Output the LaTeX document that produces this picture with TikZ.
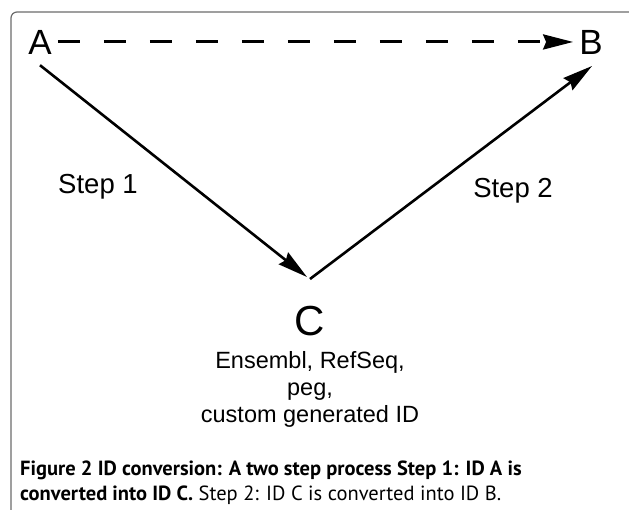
\documentclass[tikz,border=0pt]{standalone}
\usepackage{fontspec}
\setmainfont{Liberation Sans}
\newfontfamily\capfont{PT Sans}
\usetikzlibrary{arrows.meta}
\tikzset{
  arr/.style={line width=2.6pt,-{Stealth[length=30pt,width=15pt,inset=3pt]}},
  dasharr/.style={arr,line width=3pt,dash pattern=on 22pt off 24pt},
  letter/.style={inner sep=0pt,anchor=base,font=\fontsize{35}{35}\selectfont},
  steplabel/.style={inner sep=0pt,anchor=base,font=\fontsize{27.5}{27.5}\selectfont}
}
\begin{document}
\begin{tikzpicture}[x=1pt,y=-1pt]
        \useasboundingbox(0,0)rectangle(629,509);
        \draw[gray!85!black,line width=1.2pt,rounded corners=6pt](11,520)--(11,12)--(640,12);
        \node[letter](A)at(40,54){A};
        \node[letter](B)at(591,54){B};
        \node[letter,font=\fontsize{42}{42}\selectfont](C)at(310,335){C};
        \coordinate(V)at(310,279);
        \coordinate(Vin)at(307,277);
        \coordinate(Bin)at(592,66);
        \draw[dasharr]([xshift=6pt]A.east)--([xshift=-6pt]B.west);
        \draw[arr]([yshift=-11pt]A.south)--(Vin);
        \draw[arr](V)--(Bin);
        \node[steplabel]at(98,193){Step 1};
        \node[steplabel]at(513,197){Step 2};
        \node[anchor=base,inner sep=0pt,align=center,font=\fontsize{23.5}{27}\selectfont]at(310,422)
            {Ensembl, RefSeq,\\peg,\\custom generated ID};
        \node[anchor=base west,inner sep=0pt,align=left,font=\capfont\fontsize{20.5}{25}\selectfont]at(20,500)
            {\textbf{Figure 2 ID conversion: A two step process Step 1: ID A is}\\
             \textbf{converted into ID C.} Step 2: ID C is converted into ID B.};
    \end{tikzpicture}
\end{document}
